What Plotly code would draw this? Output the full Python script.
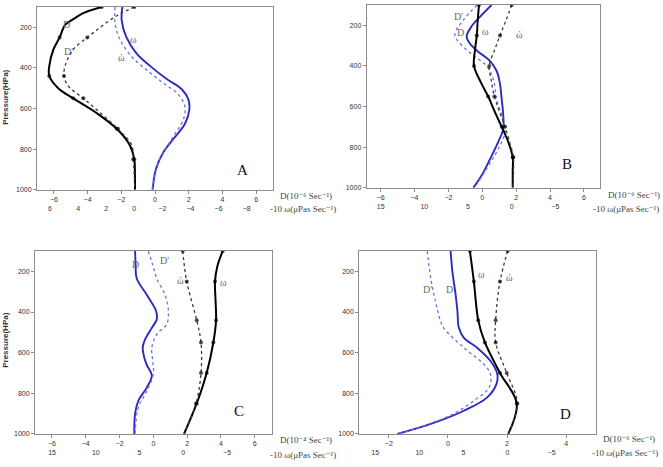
import plotly.graph_objects as go

W, H = 663, 467

# ---------------- data (pressure in hPa) ----------------
# Panel A : black curves = D, D' ; blue curves = omega, omega'
A_D_P = [100, 130, 165, 190, 250, 310, 390, 440, 500, 550, 620, 700, 780, 850, 920, 1000]
A_D = [-3.16, -4.25, -4.94, -5.34, -5.66, -6.03, -6.27, -6.27, -5.74, -4.85, -3.5, -2.27, -1.5, -1.23, -1.19, -1.19]
A_DP_P = [100, 130, 165, 210, 250, 300, 335, 380, 440, 490, 550, 620, 700, 780, 850, 1000]
A_DP = [-1.23, -1.98, -2.67, -3.4, -4.02, -4.75, -5.04, -5.3, -5.4, -5.14, -4.25, -3.26, -2.2, -1.38, -1.29, -1.19]
A_W_P = [100, 165, 245, 330, 390, 455, 505, 555, 605, 675, 750, 815, 900, 1000]
A_W = [0.85, 0.90, 0.59, -0.17, -1.12, -2.31, -3.38, -3.85, -3.92, -3.61, -2.78, -2.07, -1.53, -1.31]
A_WP_P = [100, 180, 260, 345, 410, 475, 530, 590, 655, 750, 850, 1000]
A_WP = [1.37, 1.37, 1.02, 0.18, -0.88, -2.07, -3.13, -3.61, -3.49, -2.66, -1.80, -1.26]

# Panel B : blue = D, D' ; black = omega, omega'
B_D_P = [100, 150, 205, 255, 290, 330, 375, 425, 485, 565, 645, 710, 775, 860, 940, 1000]
B_D = [0.55, -0.04, -0.63, -0.92, -0.73, -0.24, 0.45, 0.85, 1.04, 1.15, 1.24, 1.24, 0.94, 0.45, -0.04, -0.53]
B_DP_P = [100, 175, 240, 270, 335, 400, 465, 565, 645, 725, 800, 880, 1000]
B_DP = [-0.3, -1.12, -1.61, -1.51, -0.73, 0.26, 0.65, 0.85, 1.15, 1.34, 1.0, 0.45, -0.45]
B_W_P = [100, 180, 250, 320, 400, 480, 550, 630, 700, 775, 850, 920, 1000]
B_W = [3.75, 3.9, 4.0, 4.2, 4.32, 3.55, 2.7, 1.9, 1.15, 0.39, -0.11, -0.11, -0.11]
B_WP_P = [100, 175, 250, 320, 400, 470, 550, 620, 700, 775, 850, 1000]
B_WP = [0.0, 0.65, 1.34, 1.95, 2.57, 2.35, 1.99, 1.45, 0.77, 0.25, -0.18, -0.11]

# Panel C : blue = D, D' ; black = omega, omega'
C_D_P = [100, 165, 235, 315, 395, 437, 478, 535, 575, 620, 660, 714, 772, 837, 900, 1000]
C_D = [-1.08, -1.05, -0.98, -0.39, 0.16, 0.20, -0.09, -0.49, -0.63, -0.55, -0.39, -0.09, -0.39, -0.89, -1.08, -1.13]
C_DP_P = [100, 165, 235, 315, 395, 460, 510, 575, 640, 705, 790, 870, 1000]
C_DP = [-0.30, -0.05, 0.20, 0.69, 0.89, 0.79, 0.20, -0.09, -0.04, 0.00, -0.39, -0.89, -1.08]
C_W_P = [100, 175, 250, 340, 440, 550, 700, 850, 1000]
C_W = [-4.50, -3.89, -3.62, -3.68, -3.74, -3.43, -2.67, -1.53, -0.08]
C_WP_P = [100, 250, 440, 550, 700, 850, 1000]
C_WP = [0.07, -0.39, -1.53, -2.02, -2.02, -1.45, -0.08]

# Panel D : blue = D, D' ; black = omega, omega'
D_D_P = [100, 200, 315, 395, 478, 527, 576, 641, 706, 755, 820, 886, 951, 1000]
D_D = [0.09, 0.15, 0.26, 0.32, 0.37, 0.54, 0.99, 1.44, 1.67, 1.64, 1.33, 0.54, -0.58, -1.71]
D_DP_P = [100, 235, 350, 445, 480, 576, 658, 706, 772, 837, 900, 950, 1000]
D_DP = [-0.70, -0.58, -0.42, -0.25, -0.14, 0.54, 1.22, 1.44, 1.39, 0.88, 0.2, -0.62, -1.68]
D_W_P = [100, 250, 440, 550, 700, 850, 1000]
D_W = [4.26, 3.81, 3.32, 2.56, 0.85, -1.05, -0.09]
D_WP_P = [100, 250, 440, 550, 700, 850, 1000]
D_WP = [-0.02, 0.85, 1.34, 1.34, 0.09, -1.11, -0.09]

MARK_LEVELS = [100, 250, 400, 440, 550, 700, 850]

P_TICKS = [200, 400, 600, 800, 1000]
D_TICKS_WIDE = [-6, -4, -2, 0, 2, 4, 6]
D_TICKS_NARROW = [-2, 0, 2, 4]
W_TICKS_A = [6, 4, 2, 0, -2, -4, -6, -8]
W_TICKS_BCD = [15, 10, 5, 0, -5]

D_TITLE_6 = "D(10\u207b\u2076 Sec\u207b\u00b9)"
D_TITLE_4 = "D(10\u207b\u2074 Sec\u207b\u00b9)"
W_TITLE = "-10 \u03c9(\u03bcPas Sec\u207b\u00b9)"

# ---------------- styling ----------------
BLUE = "#2b2bbf"
BLUE_DOT = "#6f6fe0"
BLACK = "#000000"
BLACK_DOT = "#3a3a3a"
FRAME = "#8c8c8c"
TXT = "#333333"
SERIF = "Liberation Serif, DejaVu Serif, serif"
SANS = "Liberation Sans, Arial, sans-serif"

fig = go.Figure()


def fx(px):
    return px / W


def fy(py):
    return 1 - py / H


panels = [
    dict(letter="A", xa="x", wa="x2", ya="y", dx=(37, 273), dy=(7, 191),
         drange=[-7, 7], dticks=D_TICKS_WIDE, wrange=[6.93, -9.88], wticks=W_TICKS_A,
         blue=[(A_W_P, A_W, "solid"), (A_WP_P, A_WP, "dot")], blue_on="w",
         black=[(A_D_P, A_D, "solid"), (A_DP_P, A_DP, "dot")], black_on="d",
         labels=[("D", -5.24, 188), ("D'", -5.14, 319), ("ω", -1.3, 258), ("ώ", -1.98, 351)],
         letter_pos=(5.2, 905), t1=(D_TITLE_6, 278, 197),
         t2=(W_TITLE, 268, 210.5), ytitle=98.5),
    dict(letter="B", xa="x3", wa="x4", ya="y2", dx=(366.7, 600), dy=(5, 189),
         drange=[-6.82, 6.95], dticks=D_TICKS_WIDE, wrange=[16.6, -10.1], wticks=W_TICKS_BCD,
         blue=[(B_D_P, B_D, "solid"), (B_DP_P, B_DP, "dot")], blue_on="d",
         black=[(B_W_P, B_W, "solid"), (B_WP_P, B_WP, "dot")], black_on="w",
         labels=[("D'", -1.42, 157), ("D", -1.28, 238), ("ω", 0.2, 230), ("ώ", 2.2, 247)],
         letter_pos=(4.98, 883), t1=(D_TITLE_6, 606, 196.5),
         t2=(W_TITLE, 591, 210.5), ytitle=None),
    dict(letter="C", xa="x5", wa="x6", ya="y3", dx=(35, 271.7), dy=(252.7, 436.7),
         drange=[-7, 7], dticks=D_TICKS_WIDE, wrange=[16.95, -10.1], wticks=W_TICKS_BCD,
         blue=[(C_D_P, C_D, "solid"), (C_DP_P, C_DP, "dot")], blue_on="d",
         black=[(C_W_P, C_W, "solid"), (C_WP_P, C_WP, "dot")], black_on="w",
         labels=[("D", -1.08, 165), ("D'", 0.65, 144), ("ώ", 1.58, 246), ("ω", 4.15, 253)],
         letter_pos=(5.04, 886), t1=(D_TITLE_4, 278, 443.3),
         t2=(W_TITLE, 268, 457.5), ytitle=343),
    dict(letter="D", xa="x7", wa="x8", ya="y4", dx=(359.3, 595.7), dy=(252.7, 436.7),
         drange=[-3, 5], dticks=D_TICKS_NARROW, wrange=[16.8, -10.0], wticks=W_TICKS_BCD,
         blue=[(D_D_P, D_D, "solid"), (D_DP_P, D_DP, "dot")], blue_on="d",
         black=[(D_W_P, D_W, "solid"), (D_WP_P, D_WP, "dot")], black_on="w",
         labels=[("D'", -0.70, 291), ("D", 0.06, 291), ("ω", 1.12, 217), ("ώ", 2.08, 230)],
         letter_pos=(3.98, 902), t1=(D_TITLE_6, 601, 442),
         t2=(W_TITLE, 590, 456), ytitle=None),
]

annotations = []
layout_axes = {}

for pn in panels:
    xa, wa, ya = pn["xa"], pn["wa"], pn["ya"]
    on = {"d": xa, "w": wa}
    # blue curves (no markers)
    for (pp, vv, dash) in pn["blue"]:
        fig.add_trace(go.Scatter(
            x=vv, y=pp, xaxis=on[pn["blue_on"]], yaxis=ya, mode="lines",
            line=dict(color=BLUE if dash == "solid" else BLUE_DOT,
                      width=1.9 if dash == "solid" else 1.3, dash=dash,
                      shape="spline", smoothing=1.0),
            showlegend=False, hoverinfo="skip"))
    # black curves (markers at the analysed levels)
    for (pp, vv, dash) in pn["black"]:
        sizes = [4 if p in MARK_LEVELS else 0 for p in pp]
        fig.add_trace(go.Scatter(
            x=vv, y=pp, xaxis=on[pn["black_on"]], yaxis=ya, mode="lines+markers",
            line=dict(color=BLACK if dash == "solid" else BLACK_DOT,
                      width=2.0 if dash == "solid" else 1.3, dash=dash,
                      shape="spline", smoothing=1.0),
            marker=dict(size=sizes, color=BLACK, symbol="circle", line=dict(width=0)),
            showlegend=False, hoverinfo="skip"))

    dom_x = [fx(pn["dx"][0]), fx(pn["dx"][1])]
    dom_y = [fy(pn["dy"][1]), fy(pn["dy"][0])]
    xkey = "xaxis" + xa[1:]
    wkey = "xaxis" + wa[1:]
    ykey = "yaxis" + ya[1:]
    layout_axes[xkey] = dict(
        domain=dom_x, range=pn["drange"], anchor=ya, tickvals=pn["dticks"],
        showline=True, mirror=True, linecolor=FRAME, linewidth=1,
        ticks="outside", ticklen=3, tickcolor=FRAME, tickwidth=1,
        tickfont=dict(family=SANS, size=7, color=TXT),
        showgrid=False, zeroline=False, fixedrange=True)
    layout_axes[wkey] = dict(
        overlaying=xa, anchor=ya, side="bottom", range=pn["wrange"], tickvals=pn["wticks"],
        showline=False, ticks="", ticklabelstandoff=13,
        tickfont=dict(family=SANS, size=7, color=TXT),
        showgrid=False, zeroline=False, fixedrange=True)
    layout_axes[ykey] = dict(
        domain=dom_y, range=[1000, 100], anchor=xa, tickvals=P_TICKS,
        showline=True, mirror=True, linecolor=FRAME, linewidth=1,
        ticks="outside", ticklen=3, tickcolor=FRAME, tickwidth=1,
        tickfont=dict(family=SANS, size=7, color=TXT),
        showgrid=False, zeroline=False, fixedrange=True)

    # curve labels
    for (txt, xv, pv) in pn["labels"]:
        annotations.append(dict(x=xv, y=pv, xref=xa, yref=ya, text=txt, showarrow=False,
                                font=dict(family=SERIF, size=10, color="#6a6a6a")))
    # panel letter
    annotations.append(dict(x=pn["letter_pos"][0], y=pn["letter_pos"][1], xref=xa, yref=ya,
                            text=pn["letter"], showarrow=False,
                            font=dict(family=SERIF, size=15, color="#111111")))
    # axis titles
    for (txt, px, py) in (pn["t1"], pn["t2"]):
        annotations.append(dict(x=fx(px), y=fy(py), xref="paper", yref="paper", text=txt,
                                showarrow=False, xanchor="left", yanchor="middle",
                                font=dict(family=SERIF, size=9, color="#444444")))
    if pn["ytitle"] is not None:
        annotations.append(dict(x=fx(6), y=fy(pn["ytitle"]), xref="paper", yref="paper",
                                text="<b>Pressure(HPa)</b>", textangle=-90, showarrow=False,
                                xanchor="center", yanchor="middle",
                                font=dict(family=SANS, size=8, color=TXT)))

fig.update_layout(
    width=W, height=H, margin=dict(l=0, r=0, t=0, b=0),
    paper_bgcolor="white", plot_bgcolor="white",
    annotations=annotations, showlegend=False, **layout_axes)

fig.write_html("out.html")
